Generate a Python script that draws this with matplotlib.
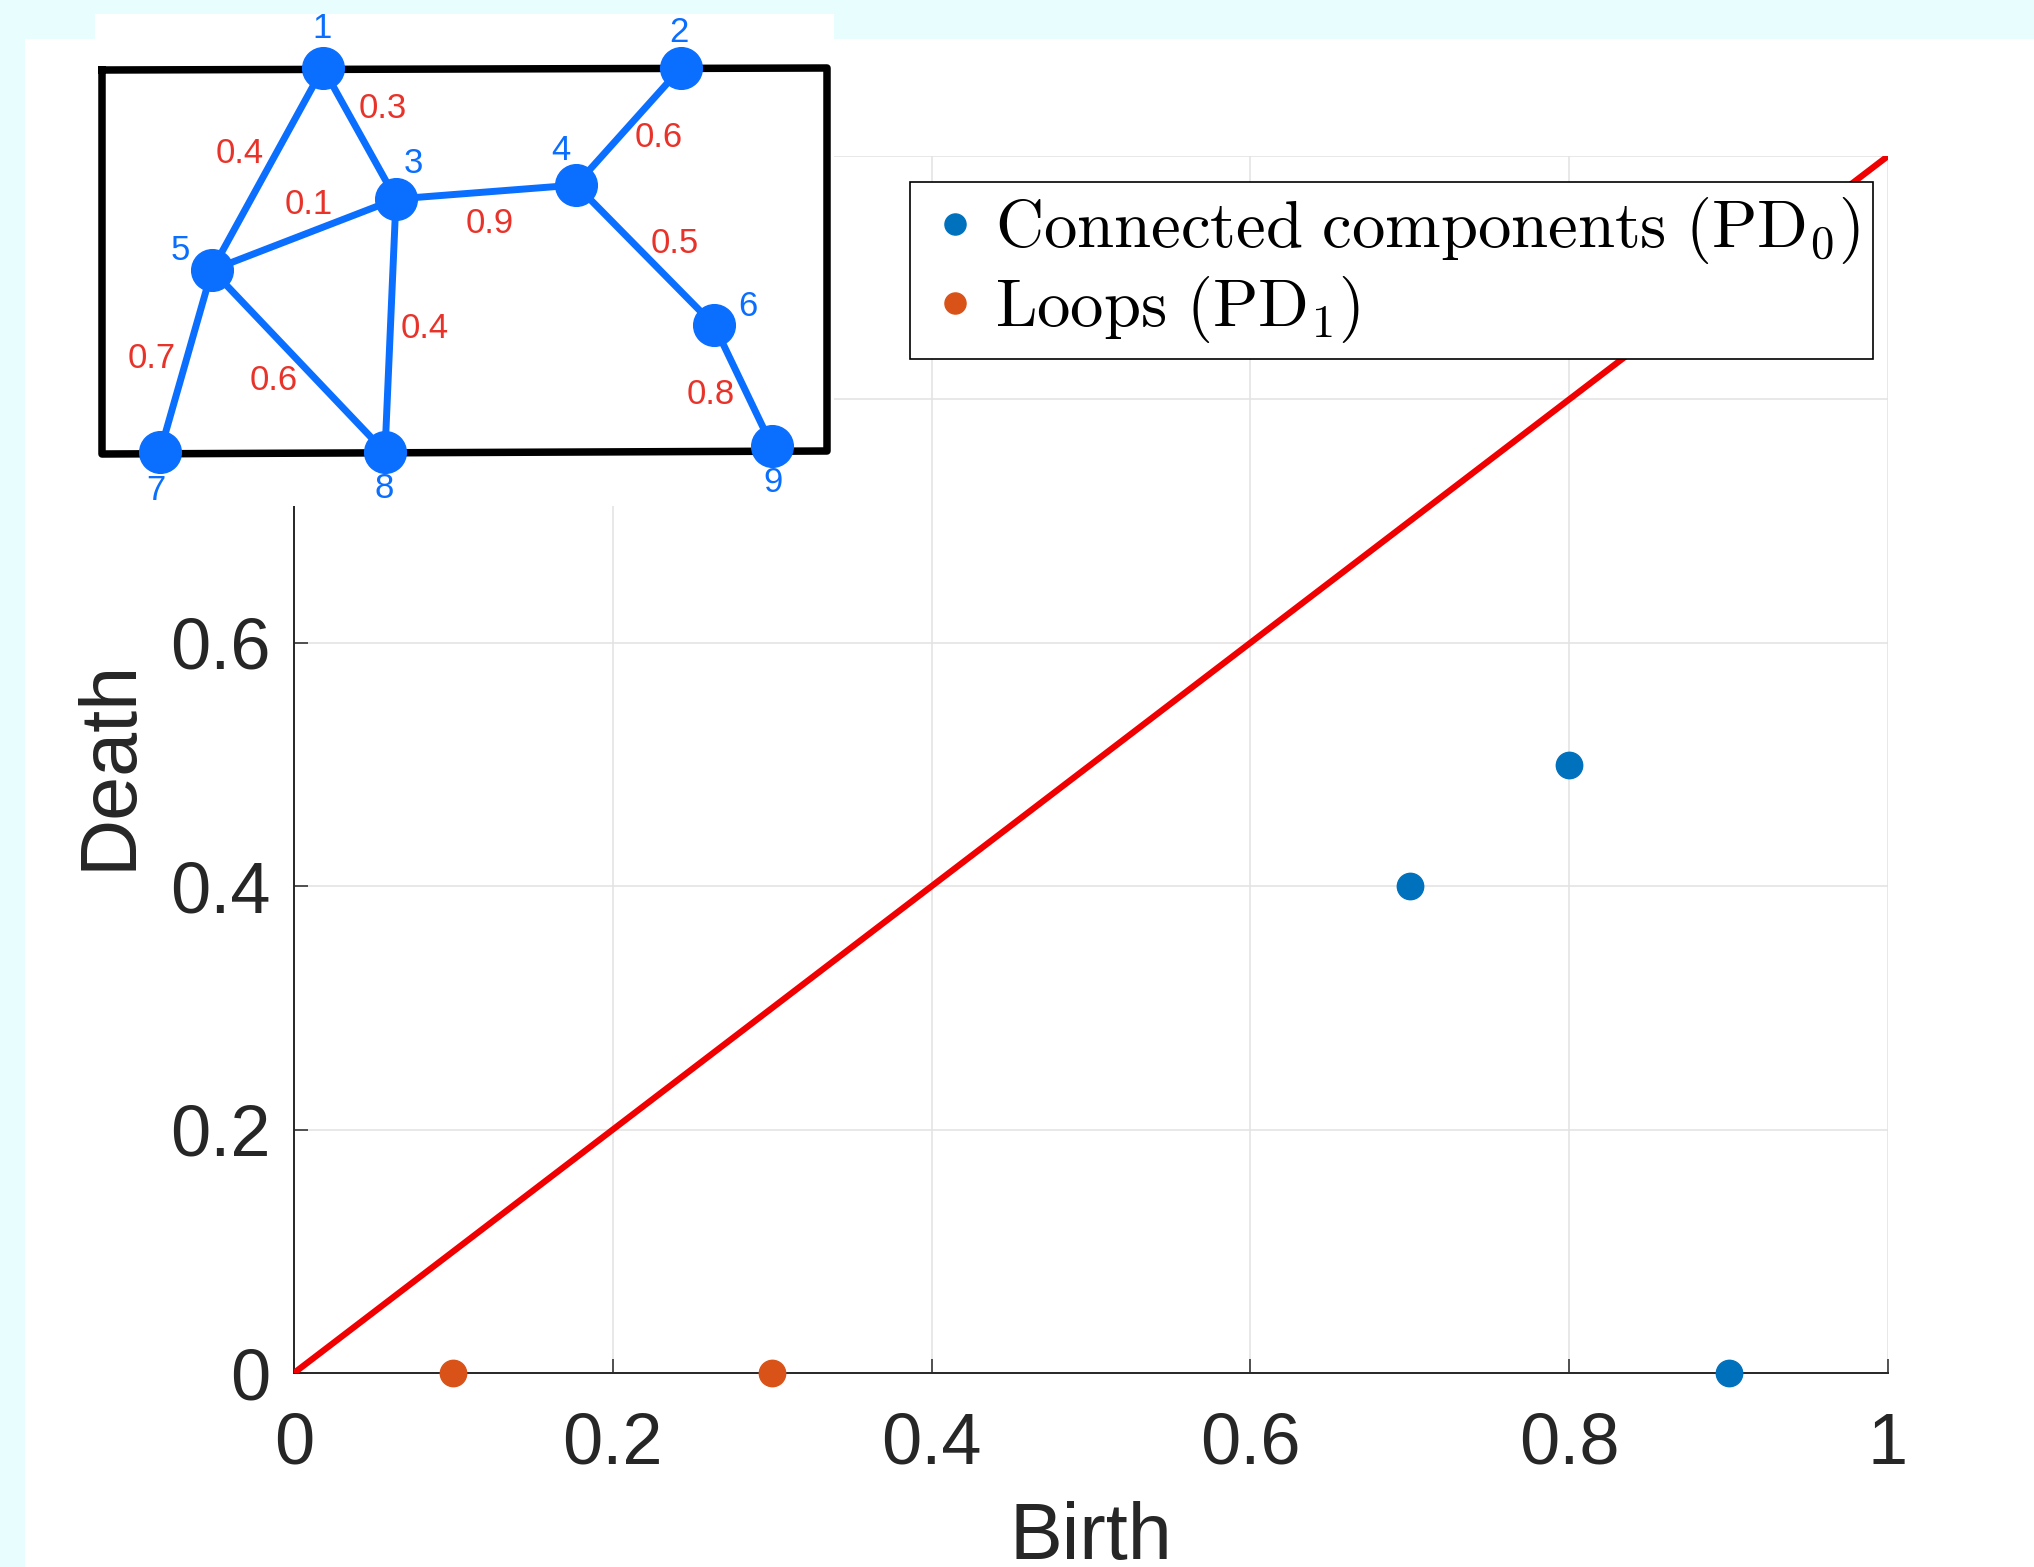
import matplotlib
matplotlib.use("Agg")
import matplotlib.pyplot as plt
from matplotlib.patches import Rectangle

# persistence diagram points
pd0_birth = [0.7, 0.8, 0.9]
pd0_death = [0.4, 0.5, 0.0]
pd1_birth = [0.1, 0.3]
pd1_death = [0.0, 0.0]
diag = [0.0, 1.0]

ticks = [0, 0.2, 0.4, 0.6, 0.8, 1.0]
tick_labels = ['0', '0.2', '0.4', '0.6', '0.8', '1']

# inset graph (pixel coordinates of the drawing)
node_names = ['1', '2', '3', '4', '5', '6', '7', '8', '9']
node_x = [323, 681, 396, 576, 212, 714, 160, 385, 772]
node_y = [68, 68, 199, 185, 270, 325, 452, 452, 446]
node_label_x = [322, 679, 413, 561, 180, 748, 156, 384, 773]
node_label_y = [28, 32, 163, 150, 250, 306, 490, 488, 482]

edges = [(1, 5), (1, 3), (3, 5), (3, 4), (2, 4), (4, 6), (3, 8), (5, 7), (5, 8), (6, 9)]
weights = ['0.4', '0.3', '0.1', '0.9', '0.6', '0.5', '0.4', '0.7', '0.6', '0.8']
weight_x = [240, 383, 309, 490, 659, 675, 425, 152, 274, 711]
weight_y = [153, 108, 204, 223, 137, 243, 329, 359, 381, 394]

box_x = [102, 827, 827, 102, 102]
box_y = [70, 68, 451, 454, 70]

plt.rcParams['font.family'] = ['Liberation Sans', 'DejaVu Sans']
plt.rcParams['mathtext.fontset'] = 'cm'

W, H = 2034, 1567
fig = plt.figure(figsize=(W / 100, H / 100), dpi=100, facecolor='#E8FDFD')

# white panel behind the plot
fig.patches.append(Rectangle((25 / W, 0), 1, (H - 39) / H, transform=fig.transFigure,
                             facecolor='white', edgecolor='none', zorder=-10))

ax = fig.add_axes([294 / W, 1 - 1373 / H, (1888 - 294) / W, (1373 - 156) / H])
ax.set_xlim(0, 1)
ax.set_ylim(0, 1)

dark = '#262626'
ax.grid(True, color='#E2E2E2', linewidth=1.1)
ax.set_axisbelow(True)

ax.plot(pd0_birth, pd0_death, 'o', color='#0072BD', markersize=19, clip_on=False,
        zorder=4, label=r'$\mathrm{Connected\ components\ (PD_0)}$')
ax.plot(pd1_birth, pd1_death, 'o', color='#D95319', markersize=19, clip_on=False,
        zorder=4, label=r'$\mathrm{Loops\ (PD_1)}$')
ax.plot(diag, diag, color='#F00000', linewidth=4.5, zorder=3)

ax.set_xticks(ticks)
ax.set_xticklabels(tick_labels)
ax.set_yticks(ticks)
ax.set_yticklabels(tick_labels)
ax.tick_params(axis='x', direction='in', length=10, width=1.1, color=dark,
               labelcolor=dark, labelsize=52, pad=28)
ax.tick_params(axis='y', direction='in', length=10, width=1.1, color=dark,
               labelcolor=dark, labelsize=52, pad=17)
for side in ['top', 'right']:
    ax.spines[side].set_visible(False)
for side in ['left', 'bottom']:
    ax.spines[side].set_color(dark)
    ax.spines[side].set_linewidth(1.4)

ax.set_xlabel('Birth', fontsize=57, color=dark, labelpad=16)
ax.set_ylabel('Death', fontsize=57, color=dark, labelpad=16)

leg = ax.legend(loc='upper left', bbox_to_anchor=(910 / W, 1 - 182 / H),
                bbox_transform=fig.transFigure, borderaxespad=0, fontsize=48,
                markerscale=0.8, handlelength=0.95, handletextpad=0.12,
                borderpad=0.2, labelspacing=0.12, fancybox=False, framealpha=1)
leg.get_frame().set_edgecolor('black')
leg.get_frame().set_linewidth(1.2)

# inset with the weighted graph
axi = fig.add_axes([95 / W, 1 - 506 / H, (834 - 95) / W, (506 - 14) / H], zorder=5)
axi.set_xlim(95, 834)
axi.set_ylim(506, 14)
axi.set_facecolor('white')
axi.set_xticks([])
axi.set_yticks([])
for s in axi.spines.values():
    s.set_visible(False)

axi.plot(box_x, box_y, color='black', linewidth=5.4, solid_joinstyle='round')
blue = '#0A6EFF'
red = '#E8332A'
for (a, b) in edges:
    axi.plot([node_x[a - 1], node_x[b - 1]], [node_y[a - 1], node_y[b - 1]],
             color=blue, linewidth=5, solid_capstyle='round')
axi.plot(node_x, node_y, 'o', color=blue, markersize=30, linestyle='none')
for name, lx, ly in zip(node_names, node_label_x, node_label_y):
    axi.text(lx, ly, name, color=blue, fontsize=25, ha='center', va='center')
for w, wx, wy in zip(weights, weight_x, weight_y):
    axi.text(wx, wy, w, color=red, fontsize=25, ha='center', va='center')

fig.savefig('out.png', dpi=100, facecolor=fig.get_facecolor())
